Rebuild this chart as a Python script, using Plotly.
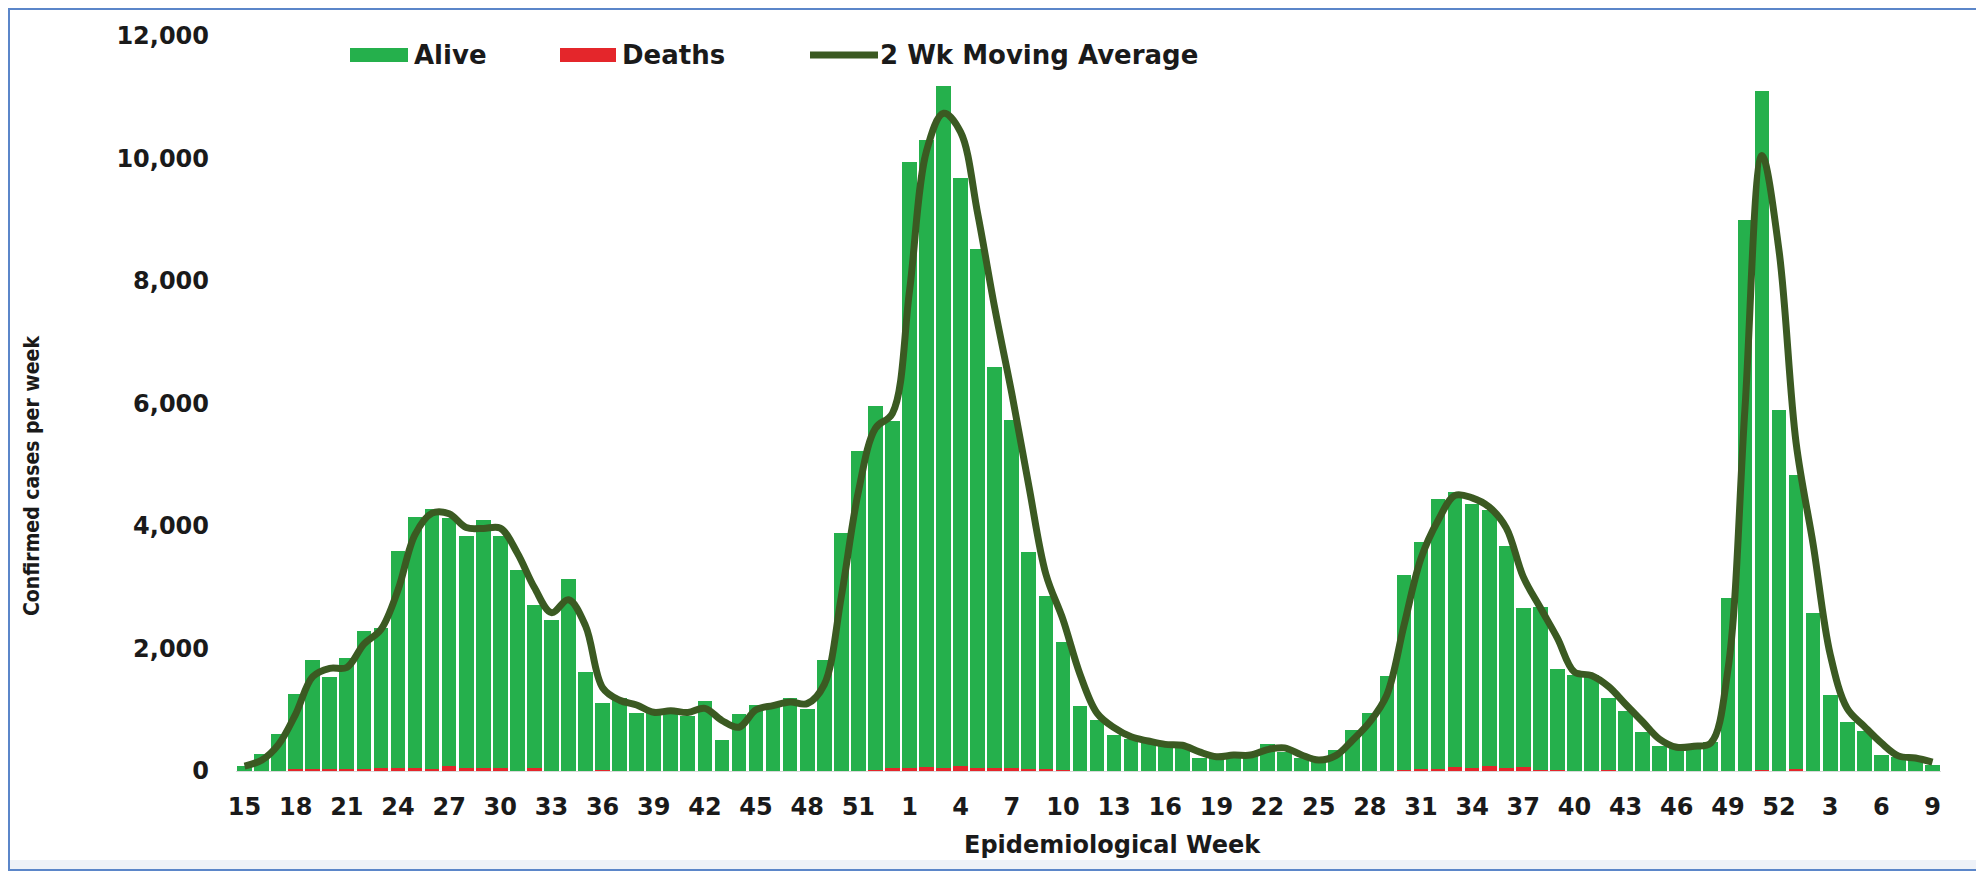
import plotly.graph_objects as go

# ---------------- data ----------------
years = [2020] * 39 + [2021] * 52 + [2022] * 9
weeks = [15, 16, 17, 18, 19, 20, 21, 22, 23, 24, 25, 26, 27, 28, 29, 30, 31, 32, 33, 34,
         35, 36, 37, 38, 39, 40, 41, 42, 43, 44, 45, 46, 47, 48, 49, 50, 51, 52, 53,
         1, 2, 3, 4, 5, 6, 7, 8, 9, 10, 11, 12, 13, 14, 15, 16, 17, 18, 19, 20,
         21, 22, 23, 24, 25, 26, 27, 28, 29, 30, 31, 32, 33, 34, 35, 36, 37, 38, 39, 40,
         41, 42, 43, 44, 45, 46, 47, 48, 49, 50, 51, 52,
         1, 2, 3, 4, 5, 6, 7, 8, 9]

alive = [80, 270, 600, 1240, 1780, 1505, 1825, 2255, 2280, 3530, 4090, 4240, 4040, 3780, 4040, 3790,
         3280, 2660, 2460, 3130, 1610, 1090, 1200, 955, 960, 1010, 900, 1145, 505, 925, 1075, 1060,
         1190, 1010, 1810, 3880, 5230, 5945, 5675,
         9905, 10230, 11130, 9605, 8470, 6550, 5680, 3550, 2820, 2085, 1060, 830, 585, 530, 450, 420,
         420, 205, 260, 260, 260, 440, 315, 205, 150, 350, 665, 940, 1545, 3180, 3700, 4410, 4500,
         4310, 4180, 3630, 2600, 2650, 1650, 1560, 1560, 1180, 980, 630, 406, 370, 440, 477, 2818,
         9000, 11080, 5890,
         4805, 2575, 1236, 802, 656, 260, 233, 190, 98]

deaths = [0, 0, 0, 25, 40, 25, 25, 35, 55, 55, 55, 40, 85, 50, 50, 50,
          0, 50, 0, 0, 0, 20, 0, 0, 0, 0, 0, 0, 0, 0, 0, 0,
          0, 0, 0, 0, 0, 15, 45,
          45, 70, 50, 75, 50, 50, 50, 30, 30, 15, 0, 0, 0, 0, 0, 0,
          0, 0, 0, 0, 0, 0, 0, 0, 0, 0, 0, 0, 0, 20, 40, 30, 60,
          50, 80, 50, 60, 20, 20, 0, 0, 20, 0, 0, 0, 0, 0, 0, 0,
          0, 20, 0,
          25, 0, 0, 0, 0, 0, 0, 0, 0]

moving_avg = [80, 175, 435, 930, 1540, 1675, 1690, 2070, 2310, 2955, 3860, 4210, 4200, 3975, 3960, 3965,
              3560, 2995, 2585, 2795, 2370, 1360, 1155, 1078, 958, 985, 955, 1023, 825, 715, 1000, 1068,
              1125, 1100, 1410, 2845, 4555, 5595, 5840,
              7835, 10125, 10740, 10430, 9100, 7560, 6165, 4655, 3215, 2475, 1580, 945, 708, 558, 490, 435,
              420, 313, 233, 260, 260, 350, 378, 260, 178, 250, 508, 803, 1243, 2373, 3470, 4090, 4500,
              4460, 4310, 3970, 3170, 2665, 2170, 1615, 1560, 1380, 1090, 805, 518, 388, 405, 458, 1648,
              5909, 10050, 8495,
              5360, 3703, 1906, 1019, 729, 458, 247, 212, 144]

categories = [f"{y}-W{w:02d}" for y, w in zip(years, weeks)]
tick_vals = categories[::3]
tick_text = [str(w) for w in weeks[::3]]

# ---------------- style ----------------
GREEN = "#25B04C"
RED = "#E4262B"
LINE = "#3B5A22"

OFF = 8  # page body margin: the figure is drawn 8px right/down of the window corner
W, H = 1976, 863
# plot area in window pixels: x 236..1941, y 36..771
ML = 236 - OFF
MR = W - (1941 - OFF)
MT = 36 - OFF
MB = H - (771 - OFF)
PW, PH = W - ML - MR, H - MT - MB


def px_x(x):
    """window pixel x -> paper x"""
    return (x - OFF - ML) / PW


def px_y(y):
    """window pixel y -> paper y"""
    return (H - MB - (y - OFF)) / PH


TICKFONT = dict(family="DejaVu Sans", size=24, color="#1a1a1a", weight="bold")

fig = go.Figure()
fig.add_trace(go.Bar(x=categories, y=deaths, name="Deaths", marker_color=RED,
                     marker_line_width=0, showlegend=False))
fig.add_trace(go.Bar(x=categories, y=alive, name="Alive", marker_color=GREEN,
                     marker_line_width=0, showlegend=False))
fig.add_trace(go.Scatter(x=categories, y=moving_avg, name="2 Wk Moving Average", mode="lines",
                         line=dict(color=LINE, width=7, shape="spline", smoothing=1.0),
                         showlegend=False))

shapes = []
annotations = []

# legend (drawn manually to match the wide swatches)
leg_y0, leg_y1 = 48, 62
leg_font = dict(family="DejaVu Sans", size=26, color="#1a1a1a", weight="bold")
shapes.append(dict(type="rect", xref="paper", yref="paper", x0=px_x(350), x1=px_x(408),
                   y0=px_y(leg_y1), y1=px_y(leg_y0), fillcolor=GREEN, line_width=0))
annotations.append(dict(text="Alive", xref="paper", yref="paper", x=px_x(412), y=px_y(55),
                        xanchor="left", yanchor="middle", showarrow=False, font=leg_font))
shapes.append(dict(type="rect", xref="paper", yref="paper", x0=px_x(560), x1=px_x(616),
                   y0=px_y(leg_y1), y1=px_y(leg_y0), fillcolor=RED, line_width=0))
annotations.append(dict(text="Deaths", xref="paper", yref="paper", x=px_x(620), y=px_y(55),
                        xanchor="left", yanchor="middle", showarrow=False, font=leg_font))
shapes.append(dict(type="line", xref="paper", yref="paper", x0=px_x(810), x1=px_x(878),
                   y0=px_y(55), y1=px_y(55), line=dict(color=LINE, width=7)))
annotations.append(dict(text="2 Wk Moving Average", xref="paper", yref="paper", x=px_x(878),
                        y=px_y(55), xanchor="left", yanchor="middle", showarrow=False, font=leg_font))

# axis titles
annotations.append(dict(text="Confirmed cases per week", xref="paper", yref="paper",
                        x=px_x(32), y=px_y(476), textangle=-90, xanchor="center", yanchor="middle",
                        showarrow=False,
                        font=dict(family="Liberation Sans Narrow, DejaVu Sans Condensed, Lato",
                                  size=21, color="#1a1a1a", weight="bold")))
annotations.append(dict(text="Epidemiological Week", xref="paper", yref="paper",
                        x=px_x(1112), y=px_y(845), xanchor="center", yanchor="middle",
                        showarrow=False,
                        font=dict(family="DejaVu Sans", size=24, color="#1a1a1a", weight="bold")))

# frame around the picture
shapes.append(dict(type="rect", xref="paper", yref="paper", x0=px_x(9), x1=px_x(1978),
                   y0=px_y(869), y1=px_y(860), fillcolor="#EEF2F8", line_width=0, layer="below"))
shapes.append(dict(type="rect", xref="paper", yref="paper", x0=px_x(9), x1=px_x(1980),
                   y0=px_y(870), y1=px_y(9), line=dict(color="#5B86C9", width=2)))

fig.update_layout(
    width=W, height=H,
    margin=dict(l=ML, r=MR, t=MT, b=MB),
    paper_bgcolor="white", plot_bgcolor="white",
    barmode="stack", bargap=0.14,
    showlegend=False,
    shapes=shapes, annotations=annotations,
    xaxis=dict(type="category", categoryorder="array", categoryarray=categories,
               tickmode="array", tickvals=tick_vals, ticktext=tick_text,
               tickfont=TICKFONT, ticks="", showgrid=False, zeroline=False,
               showline=True, linecolor="#D9D9D9", linewidth=1, ticklabelstandoff=14),
    yaxis=dict(range=[0, 12000], dtick=2000, tickformat=",", tickfont=TICKFONT,
               ticks="", showgrid=False, zeroline=False, showline=False,
               ticklabelstandoff=26),
)

fig.write_html("out.html")
